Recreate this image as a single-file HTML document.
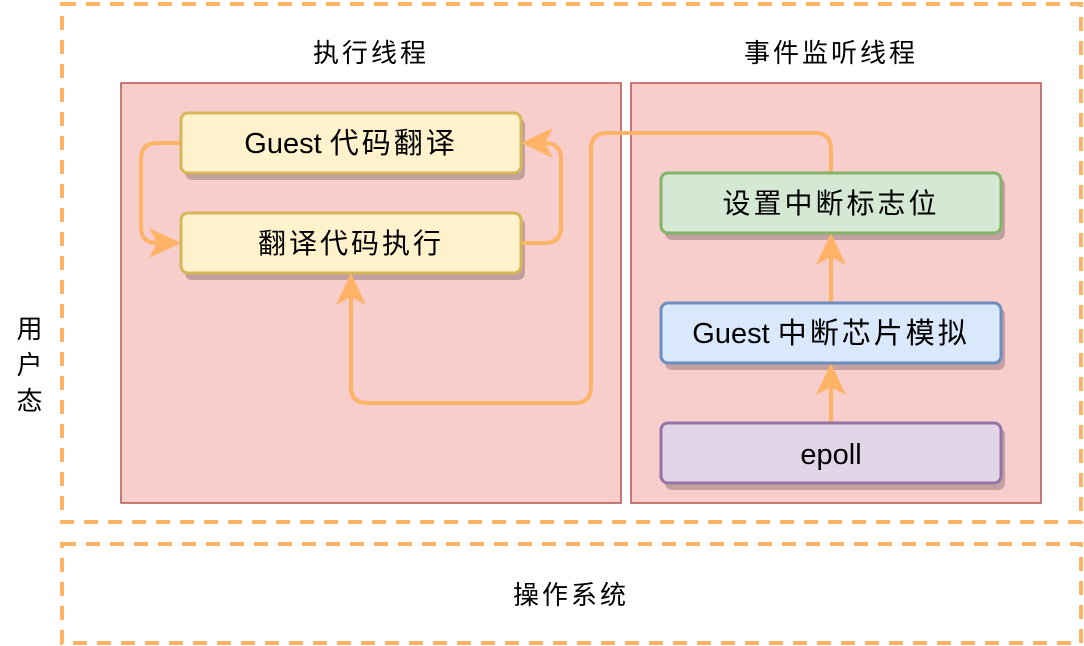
<!DOCTYPE html>
<html><head><meta charset="utf-8"><style>
html,body{margin:0;padding:0;background:#fff;}
svg{display:block;}
text{font-family:"Liberation Sans","Noto Sans CJK SC",sans-serif;fill:#000;}
</style></head><body>
<svg width="1084" height="646" viewBox="0 0 1084 646" xmlns="http://www.w3.org/2000/svg">
<defs>
<marker id="ah" markerWidth="10" markerHeight="10" refX="8" refY="5" orient="auto" markerUnits="userSpaceOnUse" viewBox="0 0 10 10">
</marker>
</defs>
<!-- outer dashed boxes -->
<rect x="62" y="4" width="1019" height="518" fill="none" stroke="#FFB366" stroke-width="4" stroke-dasharray="14 10"/>
<rect x="62" y="544" width="1019" height="99" fill="none" stroke="#FFB366" stroke-width="4" stroke-dasharray="14 10"/>
<!-- containers -->
<rect x="121" y="83" width="500" height="420" fill="#F8CECC" stroke="#B85450" stroke-width="1.5"/>
<rect x="631" y="83" width="410" height="420" fill="#F8CECC" stroke="#B85450" stroke-width="1.5"/>
<!-- shadows -->
<g fill="#000" fill-opacity="0.22">
<rect x="185" y="118" width="340" height="62" rx="7"/>
<rect x="185" y="218" width="340" height="62" rx="7"/>
<rect x="665" y="178" width="340" height="62" rx="7"/>
<rect x="665" y="308" width="340" height="62" rx="7"/>
<rect x="665" y="428" width="340" height="62" rx="7"/>
</g>
<!-- connectors -->
<g fill="none" stroke="#FFB366" stroke-width="4" stroke-linejoin="round">
<path d="M181 143 H157 Q141 143 141 159 V227 Q141 243 157 243 H170"/>
<path d="M521 243 H545 Q561 243 561 227 V159 Q561 143 545 143 H532"/>
<path d="M831 173 V149 Q831 133 815 133 H607 Q591 133 591 149 V387 Q591 403 575 403 H367 Q351 403 351 387 V285"/>
<path d="M831 303 V245"/>
<path d="M831 423 V375"/>
</g>
<g fill="#FFB366">
<path d="M181 243 L149 228 L157 243 L149 258 Z"/>
<path d="M521 143 L553 128 L545 143 L553 158 Z"/>
<path d="M351 273 L336 305 L351 297 L366 305 Z"/>
<path d="M831 233 L816 265 L831 257 L846 265 Z"/>
<path d="M831 363 L816 395 L831 387 L846 395 Z"/>
</g>
<!-- nodes -->
<rect x="181" y="113" width="340" height="60" rx="7" fill="#FFF2CC" stroke="#D6B656" stroke-width="3"/>
<rect x="181" y="213" width="340" height="60" rx="7" fill="#FFF2CC" stroke="#D6B656" stroke-width="3"/>
<rect x="661" y="173" width="340" height="60" rx="7" fill="#D5E8D4" stroke="#82B366" stroke-width="3"/>
<rect x="661" y="303" width="340" height="60" rx="7" fill="#DAE8FC" stroke="#6C8EBF" stroke-width="3"/>
<rect x="661" y="423" width="340" height="60" rx="7" fill="#E1D5E7" stroke="#9673A6" stroke-width="3"/>
<g font-size="28" text-anchor="middle">
<text x="351" y="153" font-size="29">Guest <tspan letter-spacing="3">代码翻译</tspan></text>
<text x="351" y="253" letter-spacing="3">翻译代码执行</text>
<text x="831" y="213" letter-spacing="3">设置中断标志位</text>
<text x="831" y="343" font-size="29">Guest <tspan letter-spacing="3">中断芯片模拟</tspan></text>
<text x="831" y="464" font-size="29">epoll</text>
</g>
<g font-size="26" text-anchor="middle" letter-spacing="3">
<text x="371" y="62">执行线程</text>
<text x="831" y="62">事件监听线程</text>
<text x="571" y="604">操作系统</text>
<text x="31" y="338">用</text>
<text x="31" y="374">户</text>
<text x="31" y="410">态</text>
</g>
</svg>
</body></html>
